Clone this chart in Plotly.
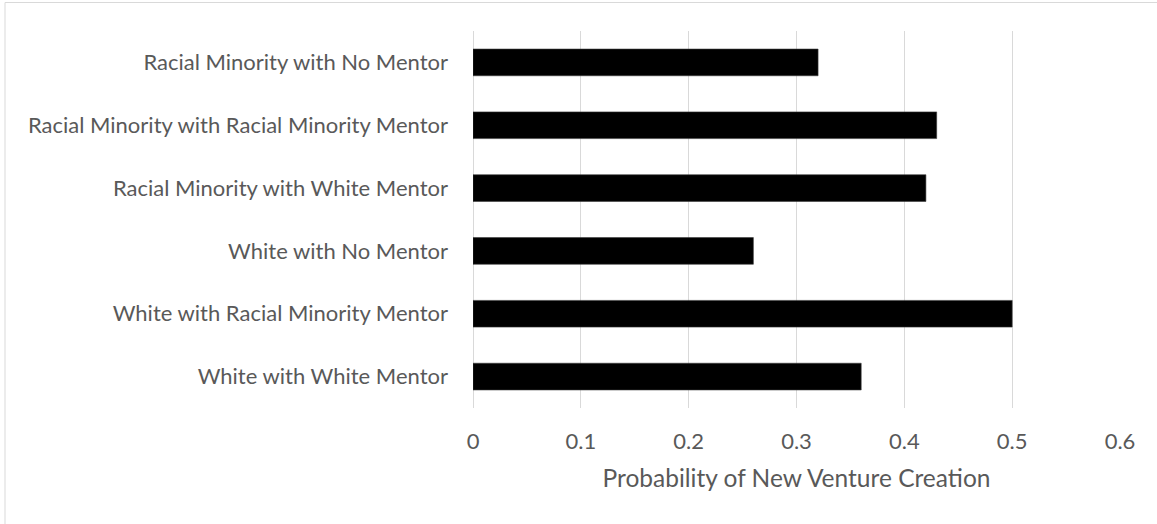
import plotly.graph_objects as go

# Groups, listed top to bottom
groups = [
    "Racial Minority with No Mentor",
    "Racial Minority with Racial Minority Mentor",
    "Racial Minority with White Mentor",
    "White with No Mentor",
    "White with Racial Minority Mentor",
    "White with White Mentor",
]
probability = [0.32, 0.43, 0.42, 0.26, 0.50, 0.36]

x_ticks = [0, 0.1, 0.2, 0.3, 0.4, 0.5, 0.6]
x_title = "Probability of New Venture Creation"

W, H = 1157, 524
ML, MR, MT, MB = 473, 37, 31, 116
pw, ph = W - ML - MR, H - MT - MB

FONT = "Lato"
TXT = "#595959"
GRID = "#d9d9d9"

fig = go.Figure(
    go.Bar(
        x=probability,
        y=groups,
        orientation="h",
        marker=dict(color="#000000", line=dict(color="#3a3a3a", width=0.6)),
        hoverinfo="x+y",
    )
)

# light frame around the whole chart area
fig.add_shape(
    type="rect",
    xref="paper", yref="paper",
    x0=(5 - ML) / pw, x1=(W + 6 - ML) / pw,
    y0=(MT + ph - (H + 6)) / ph, y1=(MT + ph - 2.5) / ph,
    line=dict(color=GRID, width=1),
    fillcolor="rgba(0,0,0,0)",
    layer="below",
)

fig.update_layout(
    width=W, height=H,
    margin=dict(l=ML, r=MR, t=MT, b=MB, pad=0),
    paper_bgcolor="white",
    plot_bgcolor="white",
    bargap=0.575,
    showlegend=False,
    font=dict(family=FONT, color=TXT, size=22),
    xaxis=dict(
        range=[0, 0.6],
        tickvals=x_ticks,
        showgrid=True, gridcolor=GRID, gridwidth=1,
        zeroline=True, zerolinecolor=GRID, zerolinewidth=1,
        showline=False, ticks="",
        tickfont=dict(family=FONT, size=22, color=TXT),
        ticklabelstandoff=18,
        title=dict(text=x_title, font=dict(family=FONT, size=24.5, color=TXT), standoff=16),
    ),
    yaxis=dict(
        autorange="reversed",
        showgrid=False, zeroline=False, showline=False, ticks="",
        tickfont=dict(family=FONT, size=22, color=TXT),
        ticklabelstandoff=24,
    ),
)

fig.write_html("out.html")
